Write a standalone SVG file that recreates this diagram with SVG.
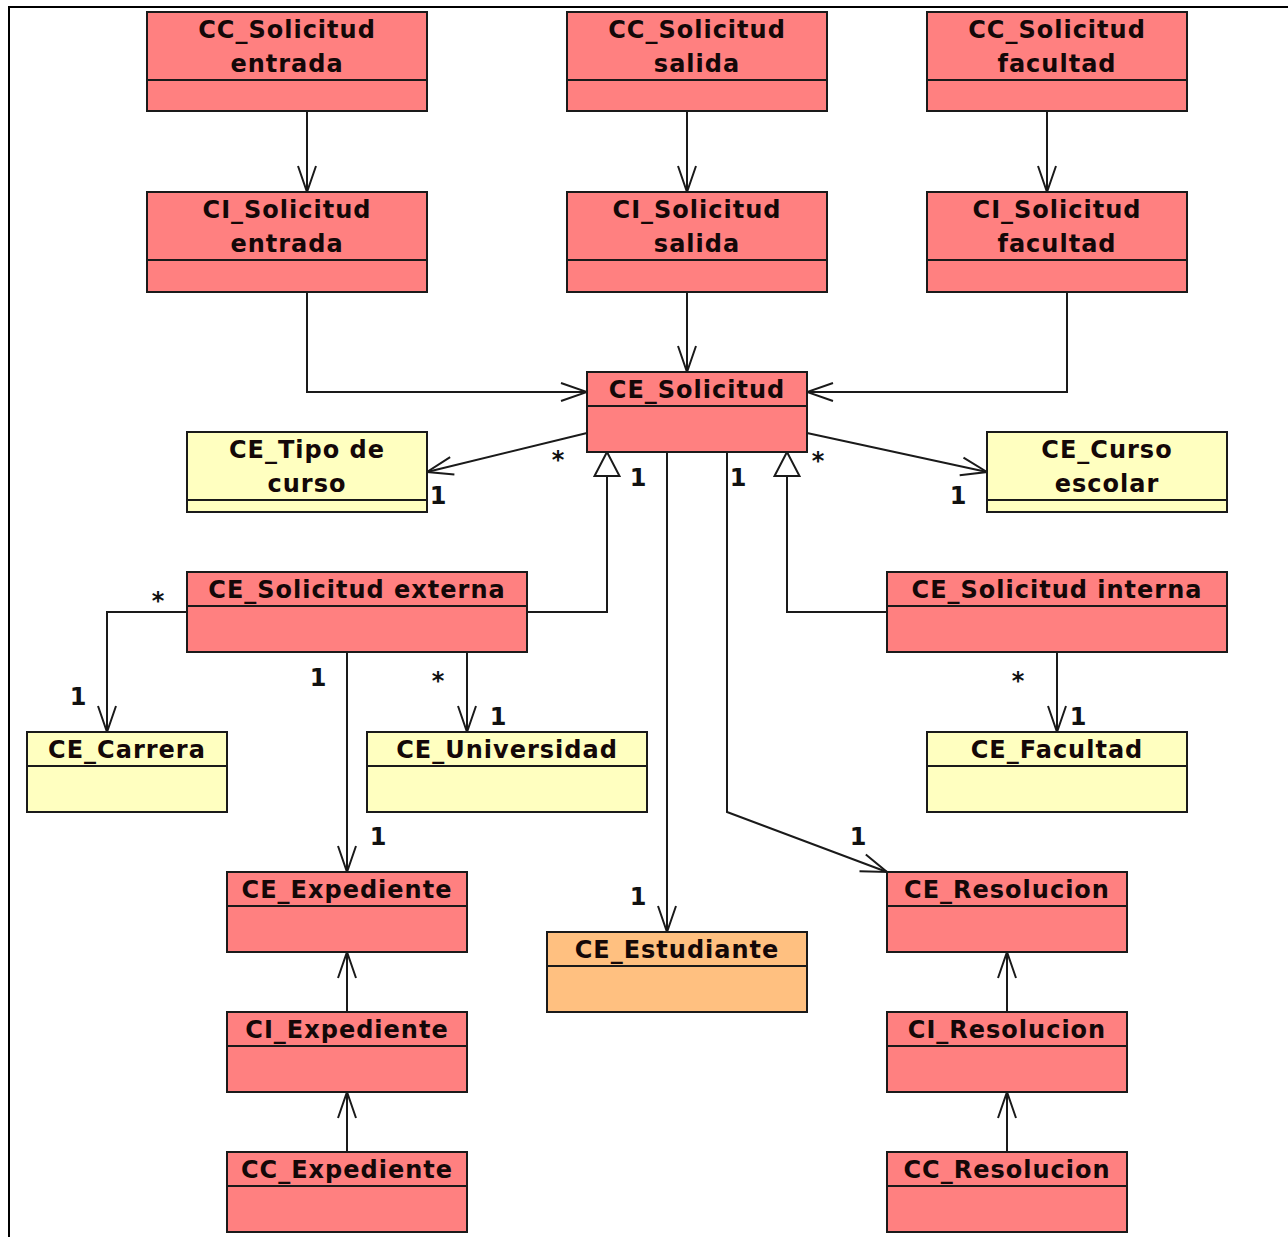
<svg xmlns="http://www.w3.org/2000/svg" width="1288" height="1237" viewBox="0 0 1288 1237">
  <style>
    .box rect { stroke: #1a1a1a; stroke-width: 2; }
    .box line { stroke: #1a1a1a; stroke-width: 2; }
    .ctl rect { fill: #ff8080; }
    .ent rect { fill: #ffffc0; }
    .act rect { fill: #ffc080; }
    .box text { font-family: "DejaVu Sans", "Liberation Sans", sans-serif; font-weight: bold; font-size: 24px; letter-spacing: 1px; fill: #140808; text-anchor: middle; }
    .conn path { fill: none; stroke: #1a1a1a; stroke-width: 2; }
    .mult text { font-family: "DejaVu Sans", "Liberation Sans", sans-serif; font-weight: bold; font-size: 24px; fill: #111; text-anchor: middle; }
  </style>
  <defs>
    <marker id="open" viewBox="-28 -11 30 22" refX="0" refY="0" markerWidth="30" markerHeight="22" markerUnits="userSpaceOnUse" orient="auto">
      <path d="M-26,-9 L0,0 L-26,9" fill="none" stroke="#1a1a1a" stroke-width="2"/>
    </marker>
    <marker id="tri" viewBox="-26 -14 28 28" refX="0" refY="0" markerWidth="28" markerHeight="28" markerUnits="userSpaceOnUse" orient="auto">
      <path d="M0,0 L-24,-12.5 L-24,12.5 Z" fill="#ffffff" stroke="#1a1a1a" stroke-width="2"/>
    </marker>
  </defs>

  <rect width="1288" height="1237" fill="#ffffff"/>
  <!-- frame -->
  <path d="M9,1237 V7 H1288" fill="none" stroke="#000" stroke-width="2"/>

  <!-- connectors -->
  <g id="connectors" class="conn">
    <path d="M307,111 V192" marker-end="url(#open)"/>
    <path d="M687,111 V192" marker-end="url(#open)"/>
    <path d="M1047,111 V192" marker-end="url(#open)"/>
    <path d="M307,292 V392 H587" marker-end="url(#open)"/>
    <path d="M687,292 V372" marker-end="url(#open)"/>
    <path d="M1067,292 V392 H807" marker-end="url(#open)"/>
    <path d="M587,433 L427,472" marker-end="url(#open)"/>
    <path d="M807,433 L987,472" marker-end="url(#open)"/>
    <path d="M527,612 H607 V452" marker-end="url(#tri)"/>
    <path d="M887,612 H787 V452" marker-end="url(#tri)"/>
    <path d="M667,452 V932" marker-end="url(#open)"/>
    <path d="M727,452 V812 L887,872" marker-end="url(#open)"/>
    <path d="M187,612 H107 V732" marker-end="url(#open)"/>
    <path d="M467,652 V732" marker-end="url(#open)"/>
    <path d="M347,652 V872" marker-end="url(#open)"/>
    <path d="M1057,652 V732" marker-end="url(#open)"/>
    <path d="M347,1012 V952" marker-end="url(#open)"/>
    <path d="M347,1152 V1092" marker-end="url(#open)"/>
    <path d="M1007,1012 V952" marker-end="url(#open)"/>
    <path d="M1007,1152 V1092" marker-end="url(#open)"/>
  </g>

  <!-- multiplicities -->
  <g id="multiplicities" class="mult">
    <text x="558" y="468">*</text>
    <text x="438" y="504">1</text>
    <text x="638" y="486">1</text>
    <text x="738" y="486">1</text>
    <text x="818" y="469">*</text>
    <text x="958" y="504">1</text>
    <text x="158" y="609">*</text>
    <text x="78" y="705">1</text>
    <text x="318" y="686">1</text>
    <text x="438" y="689">*</text>
    <text x="498" y="725">1</text>
    <text x="378" y="845">1</text>
    <text x="1018" y="689">*</text>
    <text x="1078" y="725">1</text>
    <text x="858" y="845">1</text>
    <text x="638" y="905">1</text>
  </g>

  <!-- control classes: top row -->
  <g id="cc-solicitud-entrada" class="box ctl">
    <rect x="147" y="12" width="280" height="99"/>
    <line x1="147" y1="80" x2="427" y2="80"/>
    <text x="287" y="38">CC_Solicitud</text>
    <text x="287" y="72">entrada</text>
  </g>
  <g id="cc-solicitud-salida" class="box ctl">
    <rect x="567" y="12" width="260" height="99"/>
    <line x1="567" y1="80" x2="827" y2="80"/>
    <text x="697" y="38">CC_Solicitud</text>
    <text x="697" y="72">salida</text>
  </g>
  <g id="cc-solicitud-facultad" class="box ctl">
    <rect x="927" y="12" width="260" height="99"/>
    <line x1="927" y1="80" x2="1187" y2="80"/>
    <text x="1057" y="38">CC_Solicitud</text>
    <text x="1057" y="72">facultad</text>
  </g>

  <!-- interface classes -->
  <g id="ci-solicitud-entrada" class="box ctl">
    <rect x="147" y="192" width="280" height="100"/>
    <line x1="147" y1="260" x2="427" y2="260"/>
    <text x="287" y="218">CI_Solicitud</text>
    <text x="287" y="252">entrada</text>
  </g>
  <g id="ci-solicitud-salida" class="box ctl">
    <rect x="567" y="192" width="260" height="100"/>
    <line x1="567" y1="260" x2="827" y2="260"/>
    <text x="697" y="218">CI_Solicitud</text>
    <text x="697" y="252">salida</text>
  </g>
  <g id="ci-solicitud-facultad" class="box ctl">
    <rect x="927" y="192" width="260" height="100"/>
    <line x1="927" y1="260" x2="1187" y2="260"/>
    <text x="1057" y="218">CI_Solicitud</text>
    <text x="1057" y="252">facultad</text>
  </g>

  <!-- entities -->
  <g id="ce-solicitud" class="box ctl">
    <rect x="587" y="372" width="220" height="80"/>
    <line x1="587" y1="406" x2="807" y2="406"/>
    <text x="697" y="398">CE_Solicitud</text>
  </g>
  <g id="ce-tipo-curso" class="box ent">
    <rect x="187" y="432" width="240" height="80"/>
    <line x1="187" y1="500" x2="427" y2="500"/>
    <text x="307" y="458">CE_Tipo de</text>
    <text x="307" y="492">curso</text>
  </g>
  <g id="ce-curso-escolar" class="box ent">
    <rect x="987" y="432" width="240" height="80"/>
    <line x1="987" y1="500" x2="1227" y2="500"/>
    <text x="1107" y="458">CE_Curso</text>
    <text x="1107" y="492">escolar</text>
  </g>
  <g id="ce-solicitud-externa" class="box ctl">
    <rect x="187" y="572" width="340" height="80"/>
    <line x1="187" y1="606" x2="527" y2="606"/>
    <text x="357" y="598">CE_Solicitud externa</text>
  </g>
  <g id="ce-solicitud-interna" class="box ctl">
    <rect x="887" y="572" width="340" height="80"/>
    <line x1="887" y1="606" x2="1227" y2="606"/>
    <text x="1057" y="598">CE_Solicitud interna</text>
  </g>
  <g id="ce-carrera" class="box ent">
    <rect x="27" y="732" width="200" height="80"/>
    <line x1="27" y1="766" x2="227" y2="766"/>
    <text x="127" y="758">CE_Carrera</text>
  </g>
  <g id="ce-universidad" class="box ent">
    <rect x="367" y="732" width="280" height="80"/>
    <line x1="367" y1="766" x2="647" y2="766"/>
    <text x="507" y="758">CE_Universidad</text>
  </g>
  <g id="ce-facultad" class="box ent">
    <rect x="927" y="732" width="260" height="80"/>
    <line x1="927" y1="766" x2="1187" y2="766"/>
    <text x="1057" y="758">CE_Facultad</text>
  </g>
  <g id="ce-expediente" class="box ctl">
    <rect x="227" y="872" width="240" height="80"/>
    <line x1="227" y1="906" x2="467" y2="906"/>
    <text x="347" y="898">CE_Expediente</text>
  </g>
  <g id="ce-estudiante" class="box act">
    <rect x="547" y="932" width="260" height="80"/>
    <line x1="547" y1="966" x2="807" y2="966"/>
    <text x="677" y="958">CE_Estudiante</text>
  </g>
  <g id="ce-resolucion" class="box ctl">
    <rect x="887" y="872" width="240" height="80"/>
    <line x1="887" y1="906" x2="1127" y2="906"/>
    <text x="1007" y="898">CE_Resolucion</text>
  </g>

  <!-- expediente / resolucion chains -->
  <g id="ci-expediente" class="box ctl">
    <rect x="227" y="1012" width="240" height="80"/>
    <line x1="227" y1="1046" x2="467" y2="1046"/>
    <text x="347" y="1038">CI_Expediente</text>
  </g>
  <g id="ci-resolucion" class="box ctl">
    <rect x="887" y="1012" width="240" height="80"/>
    <line x1="887" y1="1046" x2="1127" y2="1046"/>
    <text x="1007" y="1038">CI_Resolucion</text>
  </g>
  <g id="cc-expediente" class="box ctl">
    <rect x="227" y="1152" width="240" height="80"/>
    <line x1="227" y1="1186" x2="467" y2="1186"/>
    <text x="347" y="1178">CC_Expediente</text>
  </g>
  <g id="cc-resolucion" class="box ctl">
    <rect x="887" y="1152" width="240" height="80"/>
    <line x1="887" y1="1186" x2="1127" y2="1186"/>
    <text x="1007" y="1178">CC_Resolucion</text>
  </g>
</svg>
